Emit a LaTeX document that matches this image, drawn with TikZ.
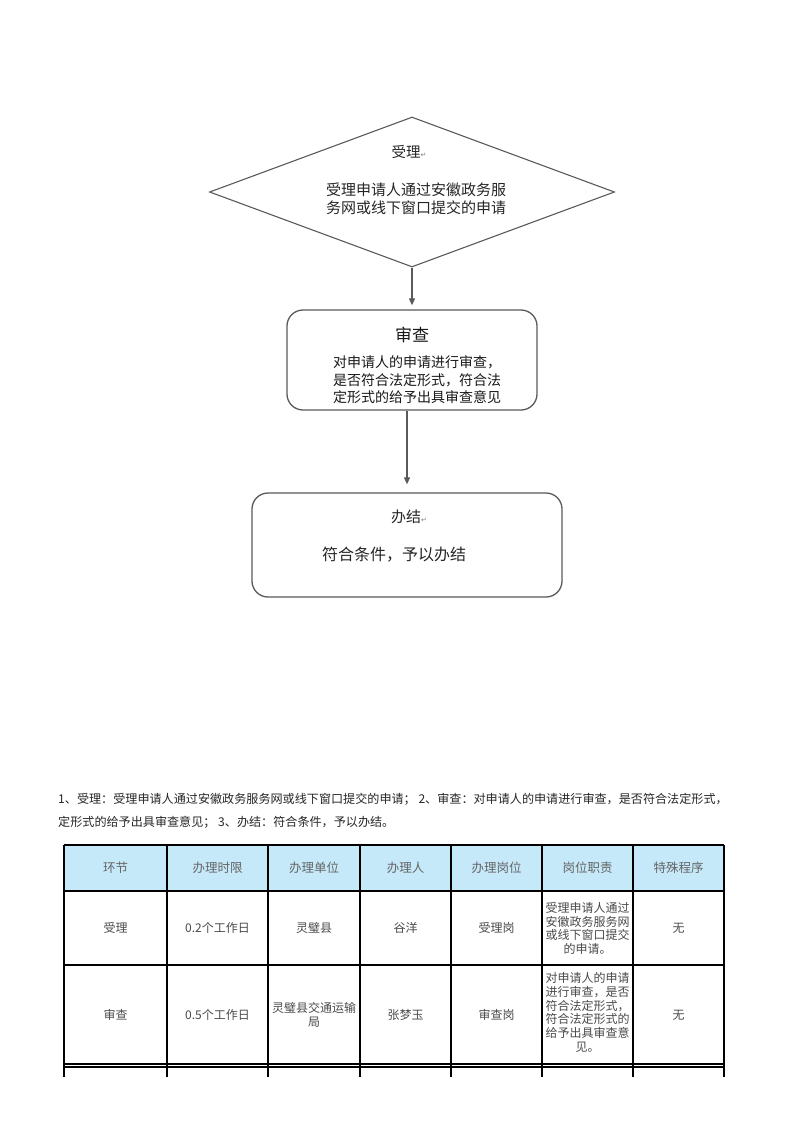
\documentclass[tikz,border=0pt]{standalone}
\usepackage{fontspec}
\setmainfont{Noto Sans CJK SC}
\newfontfamily\symfont{DejaVu Sans}
\usetikzlibrary{shapes.geometric,arrows.meta}
\definecolor{linegray}{HTML}{5A5A5A}
\definecolor{txtgray}{HTML}{262626}
\definecolor{tabtxt}{HTML}{4A4A4A}
\definecolor{headblue}{HTML}{C6E9FA}
\newcommand{\pmark}{{\symfont\fontsize{7}{7}\selectfont\color{gray}↵}}
\newcommand{\fs}[2]{\fontsize{#1}{#2}\selectfont}
\begin{document}
\begin{tikzpicture}[x=1pt,y=-1pt,
  flowline/.style={draw=linegray, line width=1.1pt},
  roundbox/.style={rectangle, rounded corners=16pt, draw=linegray, line width=1.3pt, inner sep=0pt},
  arr/.style={draw=linegray, line width=1.1pt, -{Triangle[width=6pt,length=7pt]}},
  ftext/.style={text=txtgray, align=center, inner sep=0pt},
  cell/.style={text=tabtxt, align=center, inner sep=0pt, font=\fs{12}{13.7}},
  headcell/.style={text=tabtxt!85, align=center, inner sep=0pt, font=\fs{12.5}{14}},
  grid/.style={draw=black, line width=1.2pt}
]
\useasboundingbox[fill=white] (0,0) rectangle (793,1122);

% ---- flowchart ----
\node[diamond, flowline, minimum width=405pt, minimum height=150pt, inner sep=0pt] (accept) at (412,192) {};
\node[ftext, font=\fs{14.5}{16}] (acceptT) at (409,152) {受理\pmark};
\node[ftext, font=\fs{15}{18}] (acceptB) at (416,199) {受理申请人通过安徽政务服\\务网或线下窗口提交的申请};

\node[roundbox, minimum width=250pt, minimum height=100pt] (review) at (412,360) {};
\node[ftext, font=\fs{17}{19}, text=black!90] (reviewT) at (412,335) {审查};
\node[ftext, font=\fs{14}{17.5}, text=black!90] (reviewB) at (417,380) {对申请人的申请进行审查，\\是否符合法定形式，符合法\\定形式的给予出具审查意见};

\node[roundbox, minimum width=310pt, minimum height=104pt] (done) at (407,545) {};
\node[ftext, font=\fs{15}{17}] (doneT) at (409,517) {办结\pmark};
\node[ftext, font=\fs{16}{18}] (doneB) at (394,555) {符合条件，予以办结};

\draw[arr, shorten >=4pt] (accept.south) -- (review.north);
\draw[arr, shorten >=8pt] (review.south -| done.north) -- (done.north);

% ---- paragraph ----
\node[anchor=west, inner sep=0pt, text=black!85, font=\fs{12.1}{14}] (para1) at (58,799) {1、受理：受理申请人通过安徽政务服务网或线下窗口提交的申请； 2、审查：对申请人的申请进行审查，是否符合法定形式，};
\node[anchor=west, inner sep=0pt, text=black!85, font=\fs{12.1}{14}] (para2) at (58,822) {定形式的给予出具审查意见； 3、办结：符合条件，予以办结。};

% ---- table ----
\fill[headblue] (64,845) rectangle (724,891);
\foreach \yy in {845,891,965,1064,1067} {\draw[grid] (64,\yy) -- (724,\yy);}
\foreach \xx in {64,167,268,360,451,542,633,724} {\draw[grid] (\xx,845) -- (\xx,1077);}

\node[headcell] (h1) at (115.5,868) {环节};
\node[headcell] (h2) at (217.5,868) {办理时限};
\node[headcell] (h3) at (314,868) {办理单位};
\node[headcell] (h4) at (405.5,868) {办理人};
\node[headcell] (h5) at (496.5,868) {办理岗位};
\node[headcell] (h6) at (587.5,868) {岗位职责};
\node[headcell] (h7) at (678.5,868) {特殊程序};

\node[cell] (r11) at (115.5,928) {受理};
\node[cell] (r12) at (217.5,928) {0.2个工作日};
\node[cell] (r13) at (314,928) {灵璧县};
\node[cell] (r14) at (405.5,928) {谷洋};
\node[cell] (r15) at (496.5,928) {受理岗};
\node[cell] (r16) at (587.5,928.5) {受理申请人通过\\安徽政务服务网\\或线下窗口提交\\的申请。};
\node[cell] (r17) at (678.5,928) {无};

\node[cell] (r21) at (115.5,1015) {审查};
\node[cell] (r22) at (217.5,1015) {0.5个工作日};
\node[cell] (r23) at (314,1015) {灵璧县交通运输\\局};
\node[cell] (r24) at (405.5,1015) {张梦玉};
\node[cell] (r25) at (496.5,1015) {审查岗};
\node[cell] (r26) at (587.5,1012.5) {对申请人的申请\\进行审查，是否\\符合法定形式，\\符合法定形式的\\给予出具审查意\\见。};
\node[cell] (r27) at (678.5,1015) {无};
\end{tikzpicture}
\end{document}
